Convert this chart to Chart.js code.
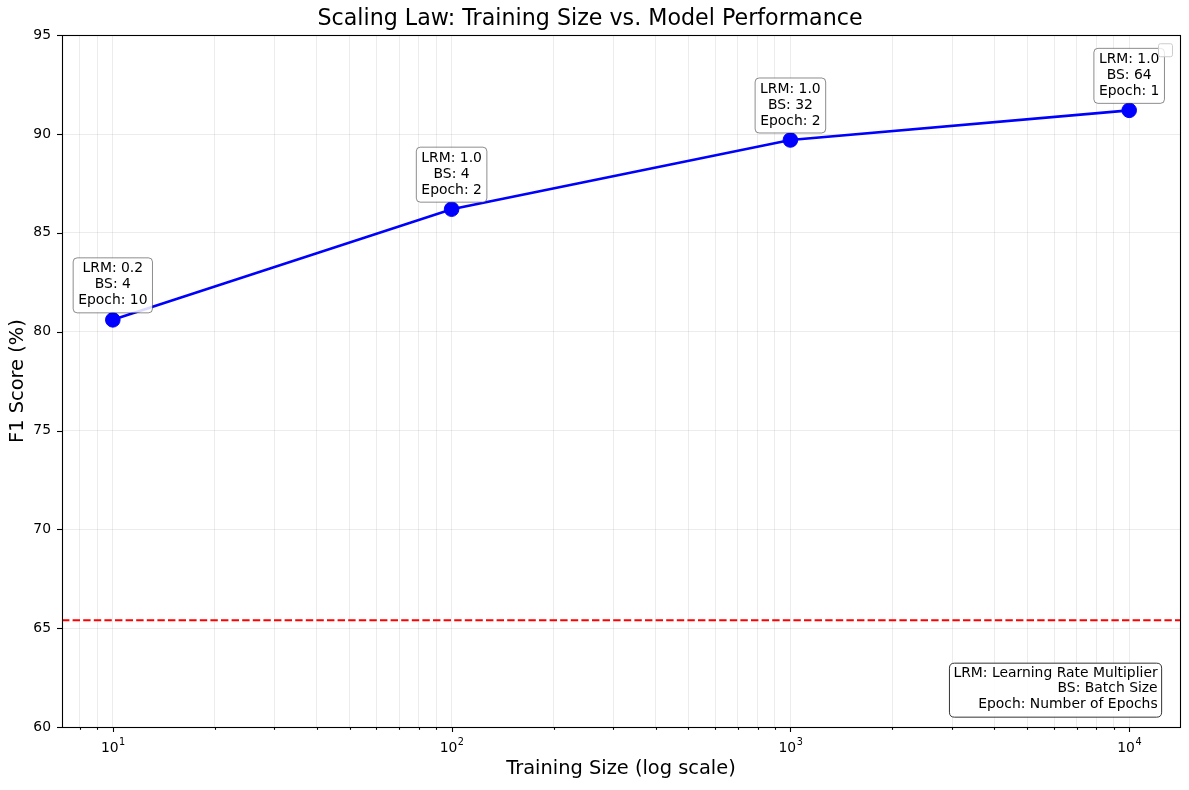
<!DOCTYPE html>
<html>
<head>
<meta charset="utf-8">
<script src="https://cdn.jsdelivr.net/npm/chart.js@4.4.0/dist/chart.umd.min.js"></script>
<style>
  html, body { margin: 0; padding: 0; background: #ffffff; }
  #wrap { width: 1189px; height: 790px; position: relative; }
</style>
</head>
<body>
<div id="wrap"><canvas id="c"></canvas></div>
<script>
// ---- Data ----
const trainingSizes = [10, 100, 1000, 10000];
const f1Scores = [80.6, 86.2, 89.7, 91.2];
const lrmValues = ['0.2', '1.0', '1.0', '1.0'];
const batchSizes = [4, 4, 32, 64];
const epochCounts = [10, 2, 2, 1];
const baselineF1 = 65.4;
const yTickValues = [60, 65, 70, 75, 80, 85, 90, 95];
const xMajorTicks = [10, 100, 1000, 10000];
const xMajorBase = '10';
const xMajorExponents = ['1', '2', '3', '4'];
const infoLines = ['LRM: Learning Rate Multiplier', 'BS: Batch Size', 'Epoch: Number of Epochs'];
const chartTitle = 'Scaling Law: Training Size vs. Model Performance';
const xTitle = 'Training Size (log scale)';
const yTitle = 'F1 Score (%)';

const FONT = "'DejaVu Sans', 'Liberation Sans', sans-serif";
const X_MIN = Math.pow(10, 0.85);
const X_MAX = Math.pow(10, 4.15);

function roundRect(ctx, x, y, w, h, r) {
  ctx.beginPath();
  ctx.moveTo(x + r, y);
  ctx.lineTo(x + w - r, y);
  ctx.quadraticCurveTo(x + w, y, x + w, y + r);
  ctx.lineTo(x + w, y + h - r);
  ctx.quadraticCurveTo(x + w, y + h, x + w - r, y + h);
  ctx.lineTo(x + r, y + h);
  ctx.quadraticCurveTo(x, y + h, x, y + h - r);
  ctx.lineTo(x, y + r);
  ctx.quadraticCurveTo(x, y, x + r, y);
  ctx.closePath();
}

const decorPlugin = {
  id: 'decor',
  afterDatasetsDraw(chart) {
    const ctx = chart.ctx;
    const meta = chart.getDatasetMeta(0);
    ctx.save();
    ctx.font = '13.9px ' + FONT;
    ctx.textAlign = 'center';
    ctx.textBaseline = 'middle';
    meta.data.forEach((pt, i) => {
      const lines = ['LRM: ' + lrmValues[i], 'BS: ' + batchSizes[i], 'Epoch: ' + epochCounts[i]];
      const w = Math.max(...lines.map(l => ctx.measureText(l).width)) + 10;
      const h = 55;
      const bottom = pt.y - 7;
      const top = bottom - h;
      const left = pt.x - w / 2;
      roundRect(ctx, left, top, w, h, 4);
      ctx.fillStyle = 'rgba(255,255,255,0.85)';
      ctx.fill();
      ctx.strokeStyle = 'rgba(0,0,0,0.45)';
      ctx.lineWidth = 1;
      ctx.stroke();
      ctx.fillStyle = '#000';
      lines.forEach((l, k) => ctx.fillText(l, pt.x, top + 11 + k * 16));
    });
    ctx.restore();
  },
  afterDraw(chart) {
    const ctx = chart.ctx;
    const a = chart.chartArea;
    const xs = chart.scales.x, ys = chart.scales.y;
    ctx.save();
    // tick marks
    ctx.strokeStyle = '#000';
    ctx.lineWidth = 1.1;
    xs.ticks.forEach(t => {
      const px = Math.round(xs.getPixelForValue(t.value)) + 0.5;
      const len = t.major ? 5 : 2.8;
      ctx.beginPath(); ctx.moveTo(px, a.bottom); ctx.lineTo(px, a.bottom + len); ctx.stroke();
    });
    ys.ticks.forEach(t => {
      const py = Math.round(ys.getPixelForValue(t.value)) + 0.5;
      ctx.beginPath(); ctx.moveTo(a.left, py); ctx.lineTo(a.left - 5, py); ctx.stroke();
    });
    // x major labels with superscript exponents
    ctx.fillStyle = '#000';
    ctx.textBaseline = 'alphabetic';
    ctx.textAlign = 'left';
    xMajorTicks.forEach((v, i) => {
      const px = xs.getPixelForValue(v);
      ctx.font = '13.9px ' + FONT;
      const w1 = ctx.measureText(xMajorBase).width;
      ctx.font = '9.7px ' + FONT;
      const w2 = ctx.measureText(xMajorExponents[i]).width;
      const x0 = px - (w1 + w2) / 2;
      ctx.font = '13.9px ' + FONT;
      ctx.fillText(xMajorBase, x0, a.bottom + 25);
      ctx.font = '9.7px ' + FONT;
      ctx.fillText(xMajorExponents[i], x0 + w1 + 0.5, a.bottom + 17.5);
    });
    // frame
    ctx.lineWidth = 1.1;
    ctx.strokeRect(Math.round(a.left) + 0.5, Math.round(a.top) + 0.5, Math.round(a.right - a.left), Math.round(a.bottom - a.top));
    // info box
    ctx.font = '13.9px ' + FONT;
    ctx.textAlign = 'right';
    ctx.textBaseline = 'middle';
    const rightX = a.left + 0.98 * (a.right - a.left);
    const bottomY = a.bottom - 0.02 * (a.bottom - a.top);
    const bw = Math.max(...infoLines.map(l => ctx.measureText(l).width)) + 8;
    const bh = 54;
    roundRect(ctx, rightX - bw + 4, bottomY - bh + 4, bw, bh, 5);
    ctx.fillStyle = 'rgba(255,255,255,0.9)';
    ctx.fill();
    ctx.strokeStyle = '#333';
    ctx.lineWidth = 1;
    ctx.stroke();
    ctx.fillStyle = '#000';
    infoLines.forEach((l, k) => ctx.fillText(l, rightX, bottomY - bh + 14 + k * 15.5));
    // empty legend box
    roundRect(ctx, a.right - 21.5, a.top + 8.5, 14, 13, 2);
    ctx.fillStyle = 'rgba(255,255,255,0.8)';
    ctx.fill();
    ctx.strokeStyle = '#cccccc';
    ctx.stroke();
    ctx.restore();
  }
};

new Chart(document.getElementById('c'), {
  type: 'line',
  data: {
    datasets: [
      {
        label: 'F1',
        data: trainingSizes.map((x, i) => ({ x: x, y: f1Scores[i] })),
        borderColor: '#0000ff',
        backgroundColor: '#0000ff',
        borderWidth: 2.6,
        pointRadius: 7.3,
        pointHoverRadius: 7.3,
        pointBorderWidth: 1,
        pointBackgroundColor: '#0000ff',
        pointBorderColor: '#0000ff',
        tension: 0,
        order: 1
      },
      {
        label: 'baseline',
        data: [{ x: X_MIN, y: baselineF1 }, { x: X_MAX, y: baselineF1 }],
        borderColor: '#ff0000',
        borderWidth: 2,
        borderDash: [7.4, 3.2],
        pointRadius: 0,
        tension: 0,
        order: 2
      }
    ]
  },
  options: {
    responsive: true,
    maintainAspectRatio: false,
    animation: false,
    devicePixelRatio: 1,
    layout: { padding: { left: 0, right: 9, top: 0, bottom: 0 } },
    plugins: {
      legend: { display: false },
      tooltip: { enabled: false },
      title: {
        display: true,
        text: chartTitle,
        color: '#000',
        font: { family: FONT, size: 22.2, weight: 'normal' },
        padding: { top: 6, bottom: 2.6 }
      }
    },
    scales: {
      x: {
        type: 'logarithmic',
        min: X_MIN,
        max: X_MAX,
        afterBuildTicks(scale) {
          const ticks = [];
          for (let e = 0; e <= 4; e++) {
            for (let d = 1; d <= 9; d++) {
              const v = d * Math.pow(10, e);
              if (v >= X_MIN && v <= X_MAX) ticks.push({ value: v, major: d === 1 });
            }
          }
          scale.ticks = ticks;
        },
        afterFit(scale) { scale.height = 63; },
        grid: { color: 'rgba(176,176,176,0.3)', lineWidth: 0.8, drawTicks: false },
        border: { display: false },
        ticks: {
          autoSkip: false,
          maxRotation: 0,
          padding: 10,
          color: '#000',
          font: { family: FONT, size: 13.9 },
          callback() { return ''; }
        },
        title: {
          display: true,
          text: xTitle,
          color: '#000',
          font: { family: FONT, size: 19.4 },
          padding: { top: 0, bottom: 9.6 }
        }
      },
      y: {
        type: 'linear',
        min: 60,
        max: 95,
        afterBuildTicks(scale) { scale.ticks = yTickValues.map(v => ({ value: v })); },
        afterFit(scale) { scale.width = 62; },
        grid: { color: 'rgba(176,176,176,0.3)', lineWidth: 0.8, drawTicks: false },
        border: { display: false },
        ticks: {
          padding: 11,
          color: '#000',
          font: { family: FONT, size: 13.9 }
        },
        title: {
          display: true,
          text: yTitle,
          color: '#000',
          font: { family: FONT, size: 19.4 },
          padding: { top: 6.6, bottom: 0 }
        }
      }
    }
  },
  plugins: [decorPlugin]
});
</script>
</body>
</html>
